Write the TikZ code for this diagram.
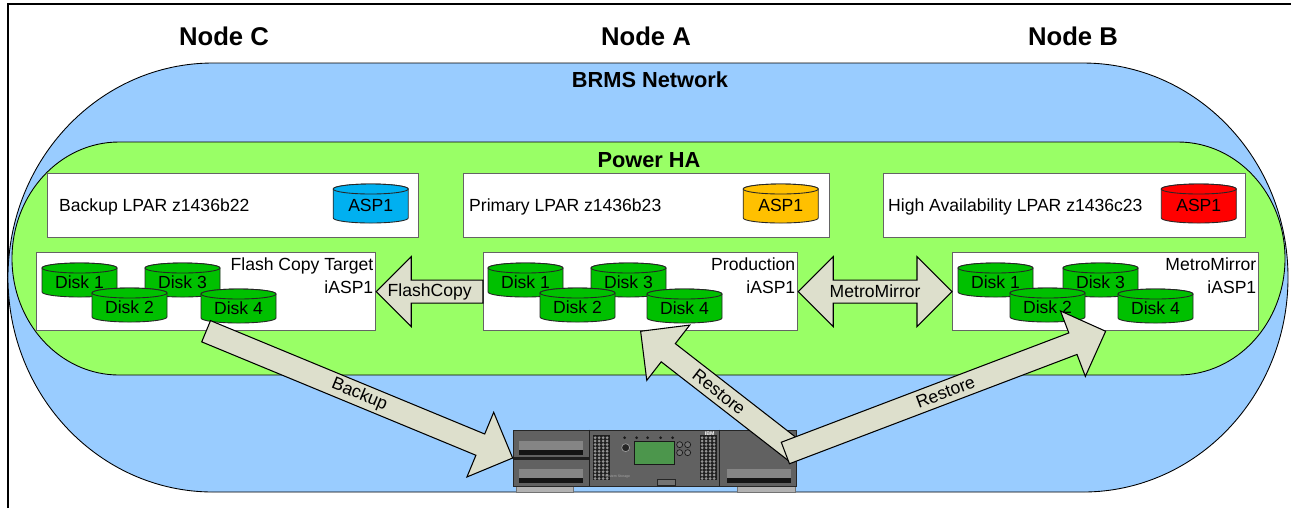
\documentclass[tikz,border=0pt]{standalone}
\usepackage{fontspec}
\setmainfont{Liberation Sans}
\usetikzlibrary{calc,positioning}

\definecolor{brmsblue}{RGB}{153,204,255}
\definecolor{hagreen}{RGB}{153,255,102}
\definecolor{diskgreen}{RGB}{0,192,0}
\definecolor{aspblue}{RGB}{0,176,240}
\definecolor{asporange}{RGB}{255,192,0}
\definecolor{aspred}{RGB}{255,0,0}
\definecolor{flowfill}{RGB}{221,223,204}
\definecolor{boxline}{RGB}{100,100,100}
\definecolor{lcd}{RGB}{76,150,76}

\tikzset{
  region/.style={draw=black,line width=0.5pt},
  lpar/.style={draw=boxline,fill=white,line width=0.7pt,anchor=north west,inner sep=0pt},
  drumrim/.style={draw=black!85,line width=0.5pt},
  drum/.style={inner sep=0pt,minimum width=15mm,font=\fontsize{10}{12}\selectfont},
  flow/.style={draw=black,fill=flowfill,line width=0.6pt,line join=miter},
  title/.style={font=\fontsize{14.6}{17}\selectfont\bfseries},
  zone/.style={font=\fontsize{12.4}{14}\selectfont\bfseries},
  txt/.style={font=\fontsize{10}{13}\selectfont},
  tapelib/.style={draw=black!85,fill=black!62,minimum width=56.6mm,minimum height=11.2mm,inner sep=0pt}
}

% disk drum: [body length]{name}{north west corner}{fill}{label}
\newcommand\drum[5][24]{%
  \coordinate (#2-nw) at (#3);
  \path[drumrim,fill=#4] (#2-nw) ++(0,5) -- ++(0,#1)
    arc[start angle=180,end angle=360,x radius=7.5mm,y radius=1mm]
    -- ++(0,-#1) arc[start angle=0,end angle=180,x radius=7.5mm,y radius=1mm] -- cycle;
  \draw[drumrim,fill=#4] ($(#2-nw)+(37.5,5)$) ellipse[x radius=7.5mm,y radius=1mm];
  \node[drum,minimum height=#1*0.2mm] (#2) at ($(#2-nw)+(37.5,{#1/2+7})$) {#5};}

% block arrow from tail #1 to tip #2
\newcommand\fatarrow[3]{%
  \draw[flow] ($(#1)!2.3mm!90:(#2)$)
    -- ($(#2)!7mm!(#1)!2.3mm!-90:(#1)$)
    -- ($(#2)!7mm!(#1)!7mm!-90:(#1)$)
    -- (#2)
    -- ($(#2)!7mm!(#1)!7mm!90:(#1)$)
    -- ($(#2)!7mm!(#1)!2.3mm!90:(#1)$)
    -- ($(#1)!2.3mm!-90:(#2)$) -- cycle;
  \path (#1) -- (#2) node[txt,midway,sloped] {#3};}

% block arrow with a head at both ends
\newcommand\fatboth[3]{%
  \draw[flow] (#1)
    -- ($(#1)!7mm!(#2)!7mm!90:(#2)$)
    -- ($(#1)!7mm!(#2)!2.3mm!90:(#2)$)
    -- ($(#2)!7mm!(#1)!2.3mm!-90:(#1)$)
    -- ($(#2)!7mm!(#1)!7mm!-90:(#1)$)
    -- (#2)
    -- ($(#2)!7mm!(#1)!7mm!90:(#1)$)
    -- ($(#2)!7mm!(#1)!2.3mm!90:(#1)$)
    -- ($(#1)!7mm!(#2)!2.3mm!-90:(#2)$)
    -- ($(#1)!7mm!(#2)!7mm!-90:(#2)$) -- cycle;
  \path (#1) -- (#2) node[txt,midway,sloped] {#3};}

\begin{document}
\begin{tikzpicture}[x=0.2mm,y=-0.2mm]
 \useasboundingbox (0,0) rectangle (1291,508);
 \fill[white] (0,0) rectangle (1291,508);
 \draw[line width=0.8pt] (8,508) -- (8,4) -- (1291,4);

 % network and cluster zones
 \path[region,fill=brmsblue] (213,63) -- (1083,63)
   arc[start angle=90,end angle=-90,x radius=41mm,y radius=42.9mm]
   -- (213,492) arc[start angle=270,end angle=90,x radius=41mm,y radius=42.9mm] -- cycle;
 \path[region,fill=hagreen] (119,142) -- (1178,142)
   arc[start angle=90,end angle=-90,x radius=21.4mm,y radius=23.3mm]
   -- (119,375) arc[start angle=270,end angle=90,x radius=21.4mm,y radius=23.3mm] -- cycle;

 \node[title] (title-c) at (224,36) {Node C};
 \node[title] (title-a) at (646,36) {Node A};
 \node[title] (title-b) at (1073,36) {Node B};
 \node[zone] (brms) at (650,80) {BRMS Network};
 \node[zone] (powerha) at (649,160) {Power HA};

 % LPARs
 \node[lpar,minimum width=74.2mm,minimum height=12.8mm] (lpar-c) at (47,173) {};
 \node[lpar,minimum width=73.2mm,minimum height=12.8mm] (lpar-a) at (463,173) {};
 \node[lpar,minimum width=72.4mm,minimum height=12.8mm] (lpar-b) at (883,173) {};
 \node[txt,anchor=base west] (name-c) at ($(lpar-c.west)+(6,6)$) {Backup LPAR z1436b22};
 \node[txt,anchor=base west] (name-a) at ($(lpar-a.west)+(0,6)$) {Primary LPAR z1436b23};
 \node[txt,anchor=base west] (name-b) at ($(lpar-b.west)+(-1,6)$) {High Availability LPAR z1436c23};
 \drum[29]{asp-c}{$(lpar-c.north east)+(-86,11)$}{aspblue}{ASP1}
 \drum[29]{asp-a}{$(lpar-a.north east)+(-87,11)$}{asporange}{ASP1}
 \drum[29]{asp-b}{$(lpar-b.north east)+(-85,11)$}{aspred}{ASP1}

 % independent ASPs
 \node[lpar,minimum width=67.8mm,minimum height=15.6mm] (iasp-c) at (36,252) {};
 \node[lpar,minimum width=62.8mm,minimum height=15.6mm] (iasp-a) at (483,252) {};
 \node[lpar,minimum width=61.2mm,minimum height=15.6mm] (iasp-b) at (952,252) {};
 \node[txt,anchor=north east,align=right,inner xsep=1.5pt,inner ysep=3pt] (role-c) at (iasp-c.north east) {Flash Copy Target\\iASP1};
 \node[txt,anchor=north east,align=right,inner xsep=1.5pt,inner ysep=3pt] (role-a) at (iasp-a.north east) {Production\\iASP1};
 \node[txt,anchor=north east,align=right,inner xsep=1.5pt,inner ysep=3pt] (role-b) at (iasp-b.north east) {MetroMirror\\iASP1};

 \drum{c1}{$(iasp-c.north west)+(6,11)$}{diskgreen}{Disk 1}
 \drum{c3}{$(iasp-c.north west)+(109,11)$}{diskgreen}{Disk 3}
 \drum{c2}{$(iasp-c.north west)+(56,36)$}{diskgreen}{Disk 2}
 \drum{c4}{$(iasp-c.north west)+(165,37)$}{diskgreen}{Disk 4}
 \drum{a1}{$(iasp-a.north west)+(5,11)$}{diskgreen}{Disk 1}
 \drum{a3}{$(iasp-a.north west)+(108,11)$}{diskgreen}{Disk 3}
 \drum{a2}{$(iasp-a.north west)+(57,36)$}{diskgreen}{Disk 2}
 \drum{a4}{$(iasp-a.north west)+(164,37)$}{diskgreen}{Disk 4}
 \drum{b1}{$(iasp-b.north west)+(6,11)$}{diskgreen}{Disk 1}
 \drum{b3}{$(iasp-b.north west)+(111,11)$}{diskgreen}{Disk 3}
 \drum{b2}{$(iasp-b.north west)+(58,36)$}{diskgreen}{Disk 2}
 \drum{b4}{$(iasp-b.north west)+(166,37)$}{diskgreen}{Disk 4}

 % tape library
 \fill[black!30,draw=black!55] (516,486) rectangle (573,492) (737,486) rectangle (795,492);
 \node[tapelib] (tape) at (654.5,458) {};
 \begin{scope}[shift={(tape.north west)}]
  \draw[black!88,line width=0.8pt] (77,0) -- (77,56) (207,0) -- (207,56);
  \fill[black!88] (0,27) rectangle (77,30);
  \foreach \sx/\sy in {6/11,6/39,214/39} {
   \fill[black!48] (\sx,\sy) rectangle ++(64,14);
   \fill[black!92] (\sx,{\sy+9}) rectangle ++(64,5);
  }
  \foreach \vx in {80,187} {
   \fill[black!88] (\vx,5) rectangle ++(17,45);
   \foreach \i in {0,...,3}
    \foreach \j in {0,...,12}
     \fill[black!42] ({\vx+2.5+\i*4},{8+\j*3.4}) circle (0.3mm);
  }
  \draw[black!90,fill=lcd] (122,12) rectangle (162,35);
  \draw[black!40,fill=black!85] (113,18) circle (0.8mm);
  \foreach \bx/\by in {167/15,175/15,167/23,175/23}
   \draw[black!90,fill=black!55] (\bx,\by) circle (0.6mm);
  \foreach \lx in {112,124,135,148,160}
   \fill[black!90] (\lx,8) circle (0.3mm);
  \draw[black!85,fill=black!55] (145,50) rectangle (163,56);
  \node[text=white,font=\fontsize{3}{3}\selectfont\bfseries] (ibm) at (197,4.5) {IBM};
  \node[text=black!35,font=\fontsize{2}{2}\selectfont] (series) at (105,47) {System Storage};
 \end{scope}
 \coordinate (restore-a) at ($(tape.east)+(1,-5)$);
 \coordinate (restore-b) at ($(tape.east)+(-11,-5)$);

 % replication and save/restore flows
 \fatarrow{iasp-a.west}{iasp-c.east}{FlashCopy}
 \fatboth{iasp-a.east}{iasp-b.west}{MetroMirror}
 \fatarrow{iasp-c.south}{tape.west}{Backup}
 \fatarrow{restore-a}{iasp-a.south}{Restore}
 \fatarrow{restore-b}{iasp-b.south}{Restore}
\end{tikzpicture}
\end{document}
